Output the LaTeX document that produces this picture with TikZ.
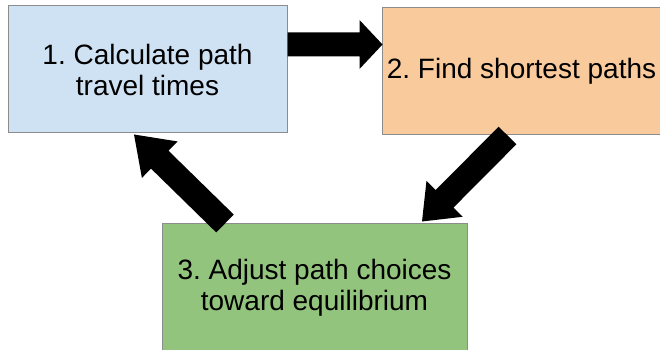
\documentclass[tikz,border=0pt]{standalone}
\usepackage{fontspec}
\setmainfont{Liberation Sans}
\usetikzlibrary{calc}
\definecolor{boxblue}{HTML}{CFE2F3}
\definecolor{boxorange}{HTML}{F9CB9C}
\definecolor{boxgreen}{HTML}{93C47D}
\definecolor{boxline}{HTML}{8C8C8C}
% #1 start, #2 tip, #3 half shaft width, #4 half head width, #5 head length
\newcommand\fatarrow[5]{%
  \path ($(#2)!#5!(#1)$) coordinate (hb);
  \fill[arrowfill] ($(#1)!#3!90:(#2)$) -- ($(hb)!#3!-90:(#1)$) -- ($(hb)!#4!-90:(#1)$)
    -- (#2) -- ($(hb)!#4!90:(#1)$) -- ($(hb)!#3!90:(#1)$) -- ($(#1)!#3!-90:(#2)$) -- cycle;}
\begin{document}
\frenchspacing
\begin{tikzpicture}[x=1pt,y=1pt,
  box/.style={draw=boxline, line width=1pt, inner sep=0pt, align=center,
    minimum height=127pt, font=\frenchspacing\fontsize{28}{31}\selectfont},
  arrowfill/.style={fill=black}]
\useasboundingbox (0,0) rectangle (660,350);
\clip (0,0) rectangle (660,350);
\node[box, fill=boxblue, minimum width=279pt] (b1) at (147.5,280.5) {1. Calculate path\\travel times};
\node[box, fill=boxorange, minimum width=279pt] (b2) at (521.5,278.5) {2. Find shortest paths};
\node[box, fill=boxgreen, minimum width=305pt] (b3) at (314.5,62.5) {3. Adjust path choices\\toward equilibrium};
\coordinate (a12s) at ([yshift=25pt]b1.east);
\coordinate (a12e) at ([xshift=1pt,yshift=27pt]b2.west);
\coordinate (a23s) at ([xshift=-14pt]b2.south);
\coordinate (a23e) at ([xshift=107.5pt,yshift=2pt]b3.north);
\coordinate (a31s) at ([xshift=-89.5pt]b3.north);
\coordinate (a31e) at ([xshift=-13.5pt,yshift=-1pt]b1.south);
\fatarrow{a12s}{a12e}{12pt}{24.5pt}{23pt}
\fatarrow{a23s}{a23e}{12.5pt}{25.5pt}{32pt}
\fatarrow{a31s}{a31e}{12.5pt}{25.5pt}{36pt}
\end{tikzpicture}
\end{document}
